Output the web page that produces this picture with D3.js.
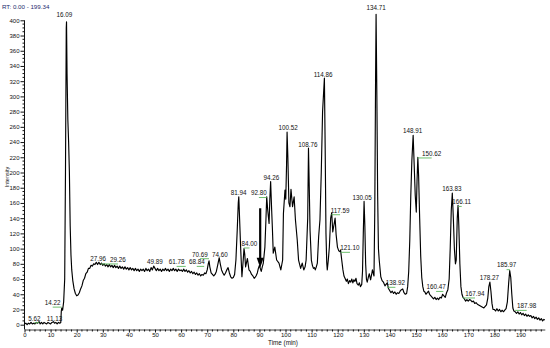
<!DOCTYPE html>
<html>
<head>
<meta charset="utf-8">
<script src="https://cdn.jsdelivr.net/npm/d3@7"></script>
<style>
  html, body { margin: 0; padding: 0; background: #fff; }
  svg { display: block; font-family: "Liberation Sans", Arial, sans-serif; }
</style>
</head>
<body>
<div id="chart"></div>
<script>
// chromatogram trace, [time (min), intensity]
const trace0to30 = [
  [0,1],[0.5,2],[1,0],[1.5,2],[2,1],[2.5,3],[3,1],[3.5,2],[4,1],[4.5,3],[5,2],[5.6,4],[6,1],[6.5,3],
  [7,1],[7.5,3],[8,2],[8.5,1],[9,3],[9.5,2],[10,1],[10.5,3],[11.1,4],[11.5,2],[12,3],[12.5,1],[13,3],
  [13.5,2],[13.9,3],[14.1,18],[14.3,22],[14.6,19],[15.0,30],[15.4,60],[15.7,200],[16.0,390],[16.1,398],
  [16.3,330],[16.6,270],[16.9,240],[17.2,200],[17.5,130],[17.8,92],[18.1,72],[18.5,58],[19.0,47],
  [19.5,41],[20.0,38],[20.5,39],[21.0,42],[21.5,47],[22,51],[22.5,58],[23,61],[23.5,67],[24,69],
  [24.5,74],[25,74],[25.5,78],[26,77],[26.5,80],[27,79],[27.5,82],[28,79],[28.5,82],[29,79],[29.5,81]
];
const trace30to80 = [
  [30,78],[30.5,80],[31,77],[31.5,79],[32,76],[32.5,79],[33,76],[33.5,78],[34,75],[34.5,78],[35,75],
  [35.5,77],[36,74],[36.5,77],[37,74],[37.5,76],[38,73],[38.5,76],[39,73],[39.5,75],[40,72],[40.5,75],
  [41,72],[41.5,74],[42,71],[42.5,74],[43,71],[43.5,73],[44,70],[44.5,73],[45,71],[45.5,73],[46,70],
  [46.5,74],[47,71],[47.5,73],[48,70],[48.5,75],[49,72],[49.5,77],[50,74],[50.5,71],[51,74],[51.5,71],
  [52,73],[52.5,70],[53,73],[53.5,71],[54,74],[54.5,71],[55,73],[55.5,70],[56,73],[56.5,71],[57,74],
  [57.5,71],[58,73],[58.5,70],[59,73],[59.5,71],[60,72],[60.5,70],[61,73],[61.5,70],[62,72],[62.5,69],
  [63,71],[63.5,68],[64,70],[64.5,67],[65,69],[65.5,66],[66,68],[66.5,65],[67,67],[67.5,64],[68,66],
  [68.5,65],[69,68],[69.5,67],[70,72],[70.4,80],[70.7,84],[71,76],[71.5,68],[72,66],[72.5,64],[73,66],
  [73.5,70],[74,78],[74.6,88],[75,80],[75.5,72],[76,68],[76.5,65],[77,68],[77.5,72],[78,75],[78.5,68],
  [79,63],[79.5,61],[80,62]
];
const trace80to125 = [
  [80.5,66],[81,85],[81.5,124],[81.9,160],[82.1,168],[82.4,140],[82.8,102],[83.3,63],[83.8,85],[84.1,100],
  [84.4,92],[84.7,76],[85.4,87],[86,72],[86.5,70],[87,66],[87.5,64],[88,61],[88.3,62],[88.7,64],[89.2,68],
  [89.6,74],[90,78],[90.4,73],[90.7,70],[91.1,76],[91.5,81],[92.1,102],[92.5,138],[92.8,168],[93.2,150],
  [93.7,133],[94.0,165],[94.3,188],[94.7,150],[95,124],[95.3,94],[95.9,102],[96.6,85],[97.5,81],[98.2,72],
  [98.9,85],[99.2,146],[99.8,177],[100.1,165],[100.4,210],[100.6,253],[100.9,220],[101.3,160],[101.7,155],
  [102.1,178],[102.7,155],[103.3,168],[103.8,138],[104.5,111],[105,85],[105.8,74],[106.4,81],[107,72],
  [107.5,76],[107.9,85],[108.5,140],[108.8,232],[109.1,180],[109.4,124],[109.9,85],[110.3,78],[110.7,74],
  [111.1,75],[111.4,72],[111.8,76],[112.2,81],[112.7,116],[113.2,138],[113.7,200],[114.2,280],[114.9,324],
  [115.2,230],[115.5,120],[115.8,81],[116,72],[116.4,85],[116.8,102],[117.3,140],[117.7,147],[118.1,122],
  [118.6,132],[119,140],[119.4,118],[119.9,102],[120.4,97],[120.8,96],[121.1,98],[121.5,86],[122,72],
  [122.4,64],[122.8,61],[123.3,57],[123.7,60],[124.1,54],[124.6,58],[125,56]
];
const trace125to161 = [
  [125.4,60],[125.8,55],[126.2,59],[126.6,57],[127,61],[127.4,54],[127.9,52],[128.3,55],[128.7,50],
  [129.2,53],[129.5,70],[129.8,120],[130.1,162],[130.4,130],[130.7,80],[131,60],[131.3,56],[131.7,62],
  [132.1,67],[132.6,59],[133,66],[133.3,72],[133.9,64],[134.2,150],[134.5,320],[134.7,408],[135,300],
  [135.3,170],[135.6,100],[135.9,85],[136.5,63],[137,58],[137.5,56],[138.1,51],[138.5,53],[139,55],
  [139.4,48],[139.9,45],[140.4,42],[140.9,44],[141.4,41],[141.9,43],[142.4,40],[142.9,42],[143.4,41],
  [143.9,44],[144.4,46],[144.9,47],[145.4,42],[145.9,40],[146.4,41],[146.8,50],[147.2,70],[147.6,110],
  [148,170],[148.4,215],[148.9,249],[149.3,210],[149.7,170],[150.1,148],[150.4,190],[150.7,220],[151,195],
  [151.4,140],[151.8,90],[152.2,62],[152.6,50],[153,44],[153.4,43],[153.8,40],[154.3,42],[154.8,44],
  [155.2,40],[155.7,38],[156.2,36],[156.7,34],[157.2,36],[157.7,33],[158.2,35],[158.7,33],[159.2,36],
  [159.7,35],[160.2,40],[160.7,38]
];
const trace161toEnd = [
  [161.2,36],[161.7,42],[162.2,46],[162.7,60],[163.1,100],[163.5,150],[163.9,173],[164.3,140],[164.7,100],
  [165.1,80],[165.4,85],[165.8,140],[166.1,157],[166.4,130],[166.8,80],[167.2,50],[167.6,40],[168,36],
  [168.5,34],[169,31],[169.5,33],[170,31],[170.5,33],[171,32],[171.5,30],[172,31],[172.5,28],[173,29],
  [173.5,27],[174,26],[174.5,25],[175,24],[175.5,23],[176,22],[176.5,24],[177,26],[177.5,35],[177.9,50],
  [178.3,56],[178.7,44],[179.1,28],[179.5,20],[180,20],[180.5,18],[181,21],[181.5,18],[182,20],[182.5,17],
  [183,19],[183.5,17],[184,19],[184.5,21],[185,30],[185.5,55],[185.9,71],[186.3,62],[186.7,40],[187.1,22],
  [187.5,18],[188,17],[188.5,15],[189,17],[189.5,14],[190,16],[190.5,13],[191,15],[191.5,12],[192,14],
  [192.5,11],[193,13],[193.5,11],[194,12],[194.5,9],[195,11],[195.5,8],[196,10],[196.5,7],[197,9],
  [197.5,6],[198,8],[198.5,5],[199,7],[199.34,6]
];

// peak labels: retention time, where the text sits (time, intensity)
const peakRT = [5.62, 11.13, 14.22, 16.09, 27.96, 29.26, 49.89, 61.78, 68.84, 70.69, 74.60, 81.94,
  84.00, 92.80, 94.26, 100.52, 108.76, 114.86, 117.59, 121.10, 130.05, 134.71, 138.92, 148.91,
  150.62, 160.47, 163.83, 166.11, 167.94, 178.27, 185.97, 187.98];
const labelTime = [3.75, 11.5, 10.8, 15.25, 28.2, 35.8, 50, 58.3, 66, 67.2, 74.9, 82,
  86.2, 89.8, 94.6, 101, 108.6, 114.4, 120.9, 124.7, 129.4, 134.7, 142.1, 148.7,
  156, 157.7, 163.7, 167.5, 172.6, 178.1, 184.7, 192.4];
const labelLevel = [5.5, 5.5, 26, 404, 84, 82.7, 80.4, 79.5, 79.5, 89.6, 89.6, 170.7,
  103.7, 170, 190.8, 256, 234, 326, 147.4, 98, 163.6, 413, 52, 251.6,
  222, 46.6, 176, 158.3, 38, 59, 75.2, 21.7];

// arrow marking the region near 90 min
const arrowAt = 90.3;
const arrowFrom = 153;
const arrowTo = 75;

const rtRange = [0, 199.34];
const yMajor = d3.range(0, 401, 20);
const yMinor = d3.range(0, 401, 5).filter(v => v % 20 !== 0);
const xMajor = d3.range(0, 191, 10);
const xMinor = d3.range(0, 199, 2).filter(v => v % 10 !== 0);

const width = 550, height = 348;
const axisY = 329.5;

const svg = d3.select('#chart').append('svg')
  .attr('width', width)
  .attr('height', height);

const x = d3.scaleLinear().domain(rtRange).range([24.5, 544.8]);
const y = d3.scaleLinear().domain([0, 400]).range([324.7, 20.3]);

// title
svg.append('text')
  .attr('x', 2)
  .attr('y', 9)
  .attr('font-size', 6.2)
  .attr('fill', '#1d2a6e')
  .text(`RT: ${rtRange[0].toFixed(2)} - ${rtRange[1].toFixed(2)}`);

// y axis
const gy = svg.append('g')
  .attr('transform', `translate(${x(0)},0)`)
  .call(d3.axisLeft(y).tickValues(yMajor).tickSize(4).tickPadding(1).tickSizeOuter(0));
gy.select('.domain').remove();
gy.selectAll('text').attr('font-size', 6).attr('font-family', null).attr('fill', '#111');
gy.selectAll('line').attr('stroke', '#111');
gy.append('line')
  .attr('x1', 0).attr('x2', 0)
  .attr('y1', y(400)).attr('y2', axisY)
  .attr('stroke', '#111');
gy.selectAll('.minor')
  .data(yMinor)
  .enter()
    .append('line')
      .attr('class', 'minor')
      .attr('x1', -2).attr('x2', 0)
      .attr('y1', d => y(d)).attr('y2', d => y(d))
      .attr('stroke', '#111');

// x axis
const gx = svg.append('g')
  .attr('transform', `translate(0,${axisY})`)
  .call(d3.axisBottom(x).tickValues(xMajor).tickSize(3).tickPadding(0).tickSizeOuter(0));
gx.select('.domain').attr('stroke', '#111').attr('stroke-width', 0.8);
gx.selectAll('text').attr('font-size', 6).attr('font-family', null).attr('fill', '#111');
gx.selectAll('line').attr('stroke', '#111');
gx.selectAll('.minor')
  .data(xMinor)
  .enter()
    .append('line')
      .attr('class', 'minor')
      .attr('x1', d => x(d)).attr('x2', d => x(d))
      .attr('y1', 0).attr('y2', 2)
      .attr('stroke', '#111');

// axis titles
svg.append('text')
  .attr('transform', 'translate(8.5,177) rotate(-90)')
  .attr('text-anchor', 'middle')
  .attr('font-size', 5.6)
  .attr('fill', '#111')
  .text('Intensity');

svg.append('text')
  .attr('x', 283)
  .attr('y', 344.5)
  .attr('text-anchor', 'middle')
  .attr('font-size', 6.3)
  .attr('fill', '#111')
  .text('Time (min)');

// trace
const trace = [].concat(trace0to30, trace30to80, trace80to125, trace125to161, trace161toEnd);
const line = d3.line()
  .x(d => x(d[0]))
  .y(d => y(d[1]));

svg.append('path')
  .datum(trace)
  .attr('fill', 'none')
  .attr('stroke', '#000')
  .attr('stroke-width', 1.15)
  .attr('stroke-linejoin', 'round')
  .attr('d', line);

// peak labels with green leaders when the text is shifted off the peak
const labels = peakRT.map((rt, i) => ({ rt, t: labelTime[i], v: labelLevel[i] }));

svg.append('g')
  .selectAll('line')
  .data(labels.filter(d => Math.abs(x(d.rt) - x(d.t)) > 2.5))
  .enter()
    .append('line')
      .attr('x1', d => x(d.rt))
      .attr('x2', d => x(d.t))
      .attr('y1', d => y(d.v) + 2.2)
      .attr('y2', d => y(d.v) + 2.2)
      .attr('stroke', '#5cb85c')
      .attr('stroke-width', 0.9);

svg.append('g')
  .selectAll('text')
  .data(labels)
  .enter()
    .append('text')
      .attr('x', d => x(d.t))
      .attr('y', d => y(d.v))
      .attr('text-anchor', 'middle')
      .attr('font-size', 6.3)
      .attr('fill', '#111')
      .text(d => d.rt.toFixed(2));

// arrow
svg.append('line')
  .attr('x1', x(arrowAt)).attr('x2', x(arrowAt))
  .attr('y1', y(arrowFrom)).attr('y2', y(arrowTo) - 8)
  .attr('stroke', '#000')
  .attr('stroke-width', 2.2);

svg.append('path')
  .attr('d', `M${x(arrowAt) - 3.5},${y(arrowTo) - 10} L${x(arrowAt) + 3.5},${y(arrowTo) - 10} L${x(arrowAt)},${y(arrowTo)} Z`)
  .attr('fill', '#000');
</script>
</body>
</html>
